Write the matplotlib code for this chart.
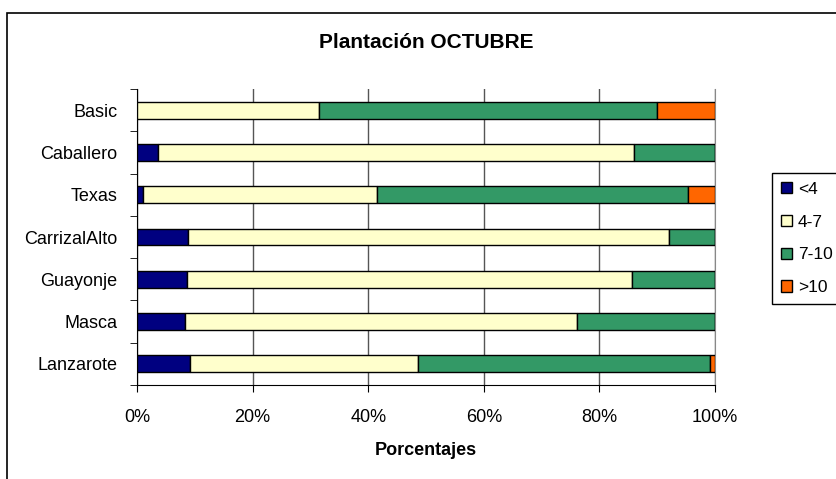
import matplotlib
matplotlib.use("Agg")
import matplotlib.pyplot as plt
import numpy as np
from matplotlib.patches import Rectangle

plt.rcParams['font.family'] = ['Liberation Sans', 'DejaVu Sans']

# datos (porcentajes)
categorias = ["Basic", "Caballero", "Texas", "CarrizalAlto", "Guayonje", "Masca", "Lanzarote"]
menor4 = [0.0, 3.6, 1.0, 8.9, 8.65, 8.3, 9.2]
de4a7 = [31.5, 82.3, 40.5, 83.2, 77.05, 67.9, 39.4]
de7a10 = [58.5, 14.1, 53.8, 7.9, 14.3, 23.8, 50.5]
mayor10 = [10.0, 0.0, 4.7, 0.0, 0.0, 0.0, 0.9]
series = ["<4", "4-7", "7-10", ">10"]
colores = ["#000080", "#FFFFCC", "#339966", "#FF6600"]

fig = plt.figure(figsize=(8.37, 4.79), dpi=100)
ax = fig.add_axes([137/837, 1 - 385/479, 578/837, 296/479])

y = np.arange(len(categorias))[::-1]
izq = np.zeros(len(categorias))
for nombre, vals, c in zip(series, [menor4, de4a7, de7a10, mayor10], colores):
    vals = np.array(vals)
    ax.barh(y, vals, left=izq, height=0.4, color=c, edgecolor="black",
            linewidth=1.0, label=nombre, zorder=3)
    izq = izq + vals

ax.set_xlim(0, 100)
ax.set_ylim(-0.5, len(categorias) - 0.5)
ax.set_xticks(np.arange(0, 101, 20))
ax.set_xticklabels([f"{v}%" for v in range(0, 101, 20)], fontsize=13)
ax.set_yticks(y)
ax.set_yticklabels(categorias, fontsize=13)
ax.set_yticks(np.arange(-0.5, len(categorias), 1), minor=True)
ax.tick_params(axis="y", which="major", length=0, pad=14)
ax.tick_params(axis="y", which="minor", length=5, direction="out", color="black")
ax.tick_params(axis="x", length=5, direction="out", pad=12, color="black")
ax.grid(axis="x", color="#555555", linewidth=1.0, zorder=0)

ax.spines["top"].set_visible(False)
ax.spines["right"].set_color("#888888")
ax.spines["left"].set_color("black")
ax.spines["bottom"].set_color("black")

ax.set_xlabel("Porcentajes", fontsize=13, fontweight="bold", labelpad=12)
fig.text(0.5 * (137 + 715) / 837, 1 - 43/479, "Plantación OCTUBRE",
         ha="center", va="center", fontsize=15, fontweight="bold")

leg = fig.legend(loc="upper left", bbox_to_anchor=(772/837, 1 - 173/479),
                 borderaxespad=0, fontsize=12.5, frameon=True, fancybox=False,
                 framealpha=1, edgecolor="black", handlelength=0.65,
                 handleheight=0.65, labelspacing=1.03, handletextpad=0.35,
                 borderpad=0.5)
leg.get_frame().set_linewidth(1.0)

# marco exterior
fig.patches.append(Rectangle((7/837, -0.05), 1.0, 1 - 13/479 + 0.05,
                             transform=fig.transFigure, fill=False,
                             edgecolor="black", linewidth=1.2))

fig.savefig("out.png", dpi=100)
